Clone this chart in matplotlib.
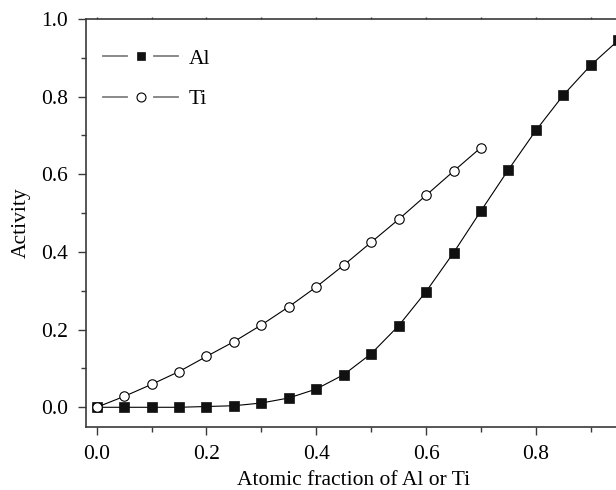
import matplotlib
matplotlib.use("Agg")
import matplotlib.pyplot as plt
from matplotlib.legend_handler import HandlerBase
from matplotlib.lines import Line2D
from matplotlib.ticker import MultipleLocator

plt.rcParams['font.family'] = ['Liberation Serif', 'DejaVu Serif']

x_al = [0.0, 0.05, 0.10, 0.15, 0.20, 0.25, 0.30, 0.35, 0.40, 0.45, 0.50,
        0.55, 0.60, 0.65, 0.70, 0.75, 0.80, 0.85, 0.90, 0.95]
a_al = [0.0, 0.0, 0.0, 0.0, 0.002, 0.004, 0.011, 0.024, 0.047, 0.084, 0.138,
        0.210, 0.298, 0.398, 0.506, 0.612, 0.713, 0.804, 0.881, 0.945]
x_ti = [0.0, 0.05, 0.10, 0.15, 0.20, 0.25, 0.30, 0.35, 0.40, 0.45, 0.50,
        0.55, 0.60, 0.65, 0.70]
a_ti = [0.0, 0.028, 0.059, 0.092, 0.131, 0.169, 0.212, 0.259, 0.310, 0.366,
        0.425, 0.484, 0.546, 0.608, 0.669]
labels = ['Al', 'Ti']
xticks = [0.0, 0.2, 0.4, 0.6, 0.8]
yticks = [0.0, 0.2, 0.4, 0.6, 0.8, 1.0]

FS = 15.5


class GapHandler(HandlerBase):
    def create_artists(self, legend, orig_handle, xdescent, ydescent,
                       width, height, fontsize, trans):
        y = height / 2 - ydescent
        x0 = -xdescent
        l1 = Line2D([x0, x0 + 0.32 * width], [y, y], color='#808080', lw=1.3)
        l2 = Line2D([x0 + 0.68 * width, x0 + width], [y, y], color='#808080', lw=1.3)
        m = Line2D([x0 + 0.5 * width], [y], linestyle='none',
                   marker=orig_handle.get_marker(),
                   markersize=orig_handle.get_markersize() * 0.95,
                   markerfacecolor=orig_handle.get_markerfacecolor(),
                   markeredgecolor=orig_handle.get_markeredgecolor(),
                   markeredgewidth=orig_handle.get_markeredgewidth())
        for a in (l1, l2, m):
            a.set_transform(trans)
        return [l1, l2, m]


fig = plt.figure(figsize=(6.16, 4.90), dpi=100)
ax = fig.add_axes([85.7 / 616, (490 - 426.7) / 490, (621 - 85.7) / 616, (426.7 - 19) / 490])

h1, = ax.plot(x_al, a_al, color='black', lw=0.8, marker='s', markersize=6.5,
              markerfacecolor='#111111', markeredgecolor='#111111', markeredgewidth=0.5,
              label=labels[0])
h2, = ax.plot(x_ti, a_ti, color='black', lw=0.8, marker='o', markersize=6.8,
              markerfacecolor='white', markeredgecolor='black', markeredgewidth=0.8,
              label=labels[1])

ax.set_xlim(-0.02, 0.955)
ax.set_ylim(-0.05, 1.0)
ax.set_xticks(xticks)
ax.set_yticks(yticks)
ax.set_xticklabels([f"{v:.1f}" for v in xticks])
ax.set_yticklabels([f"{v:.1f}" for v in yticks])
ax.xaxis.set_minor_locator(MultipleLocator(0.1))
ax.yaxis.set_minor_locator(MultipleLocator(0.1))

spine_color = '#3a3a3a'
for s in ['left', 'bottom', 'top']:
    ax.spines[s].set_color(spine_color)
    ax.spines[s].set_linewidth(1.2)
ax.spines['right'].set_visible(False)

ax.tick_params(which='major', direction='out', length=6, width=1.0,
               color=spine_color, labelsize=FS, pad=7)
ax.tick_params(which='minor', direction='out', length=3.5, width=1.0, color=spine_color)
ax.tick_params(axis='x', which='both', top=True, labeltop=False)
for t in ax.xaxis.get_ticklines(minor=False)[1::2] + ax.xaxis.get_ticklines(minor=True)[1::2]:
    t.set_markersize(1.5)

ax.set_xlabel('Atomic fraction of Al or Ti', fontsize=FS, labelpad=5.5)
ax.set_ylabel('Activity', fontsize=FS, labelpad=7)

leg = ax.legend(handles=[h1, h2], labels=labels, loc='center left',
                bbox_to_anchor=(0.0115, 0.846), bbox_transform=ax.transData,
                frameon=False, fontsize=FS, handlelength=3.5, handletextpad=0.5,
                borderpad=0, borderaxespad=0, labelspacing=0.95,
                handler_map={Line2D: GapHandler()})

fig.savefig('out.png', dpi=100)
